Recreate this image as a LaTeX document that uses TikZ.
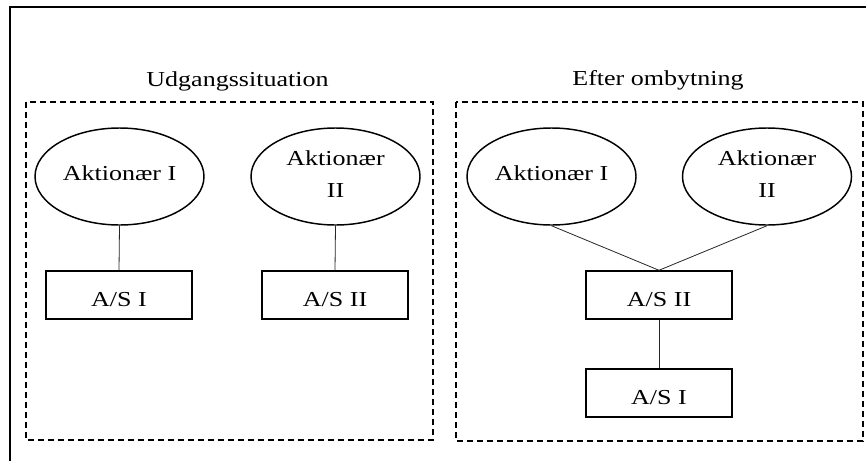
\documentclass[tikz,border=0pt]{standalone}
\usepackage{fontspec}
\usepackage{graphicx}
\setmainfont{Liberation Serif}
\usetikzlibrary{shapes.geometric}
% wide setting of the labels
\newcommand{\widetext}[1]{\scalebox{1.22}[1]{#1}}
\begin{document}
\begin{tikzpicture}[x=0.75pt,y=-0.75pt,
  frame/.style={line width=1.1pt},
  group/.style={line width=1.1pt, dash pattern=on 4.5pt off 3pt},
  owner/.style={ellipse, draw, line width=1.1pt, minimum width=126.75pt,
    minimum height=72.75pt, inner sep=0pt, align=center,
    font=\fontsize{16}{23.3}\selectfont},
  company/.style={rectangle, draw, line width=1.1pt, minimum width=109.5pt,
    minimum height=36pt, inner sep=0pt, text height=16.7pt, text depth=0.2pt,
    font=\fontsize{16}{23.3}\selectfont},
  link/.style={line width=0.6pt, black!85},
  heading/.style={anchor=base, inner sep=0pt, font=\fontsize{16}{20}\selectfont}]
  \useasboundingbox (0,0) rectangle (866,461);

  % outer frame (only top and left edges fall inside the page)
  \draw[frame] (10,461) -- (10,7) -- (866,7);

  % group frames
  \draw[group] (26,102) rectangle (433,440);
  \draw[group] (456,102) rectangle (863,441);

  % headings
  \node[heading] (hbefore) at (237.5,86) {\widetext{Udgangssituation}};
  \node[heading] (hafter) at (658,85) {\widetext{Efter ombytning}};

  % starting situation
  \node[owner, text depth=5.8pt] (la) at (119.5,176.5) {\widetext{Aktionær I}};
  \node[owner, text depth=3.6pt] (lb) at (335.5,176.5) {\widetext{Aktionær}\\\widetext{II}};
  \node[company] (lc) at (119,295) {\widetext{A/S I}};
  \node[company] (ld) at (335,295) {\widetext{A/S II}};
  \draw[link] (la.south) -- (lc.north);
  \draw[link] (lb.south) -- (ld.north);

  % after the exchange
  \node[owner, text depth=5.8pt] (ra) at (551.5,176.5) {\widetext{Aktionær I}};
  \node[owner, text depth=3.6pt] (rb) at (767,176.5) {\widetext{Aktionær}\\\widetext{II}};
  \node[company] (rc) at (659,295) {\widetext{A/S II}};
  \node[company] (rd) at (659,393) {\widetext{A/S I}};
  \draw[link] (ra.south) -- (rc.north);
  \draw[link] (rb.south) -- (rc.north);
  \draw[link] (rc.south) -- (rd.north);
\end{tikzpicture}
\end{document}
